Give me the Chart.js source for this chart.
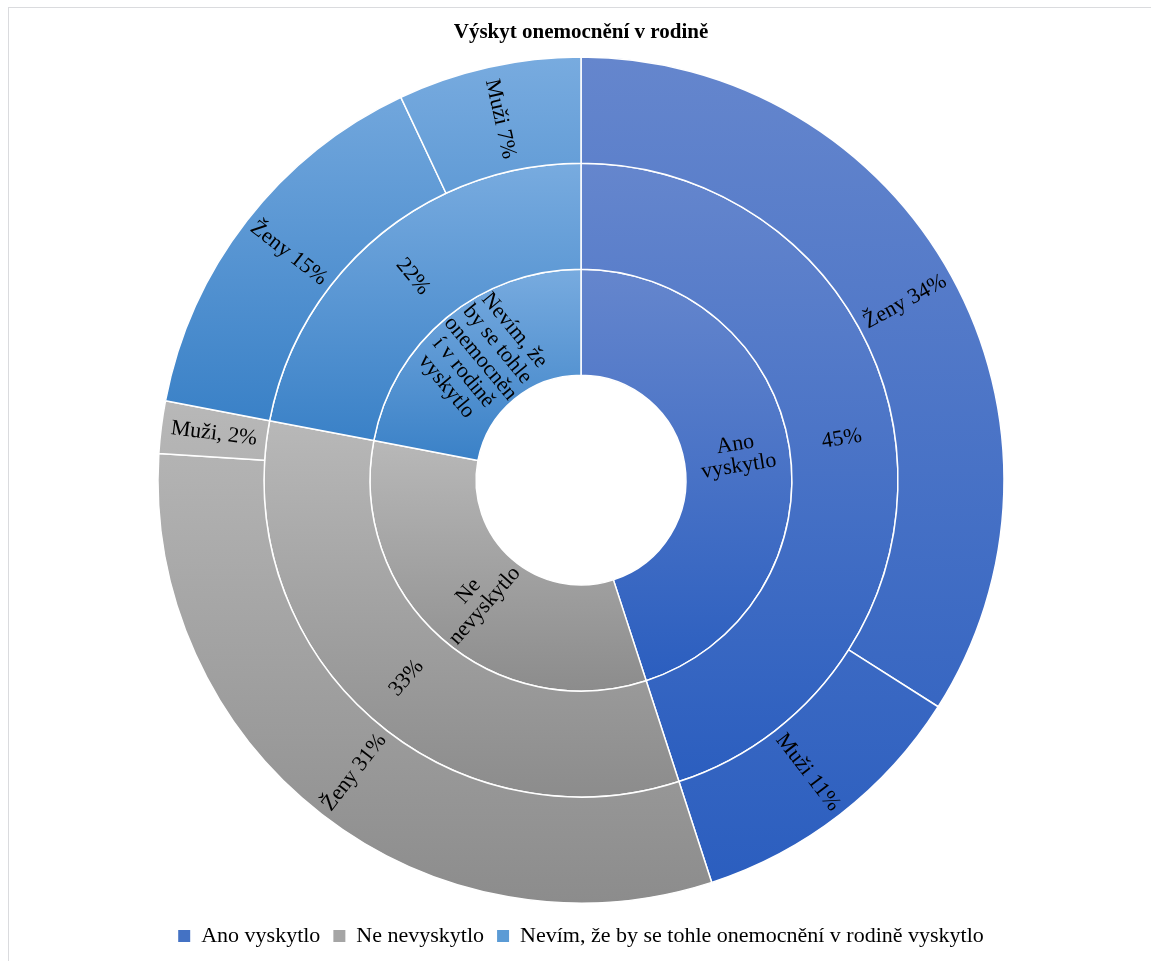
<!DOCTYPE html>
<html lang="cs">
<head>
<meta charset="utf-8">
<title>Výskyt onemocnění v rodině</title>
<script src="https://cdn.jsdelivr.net/npm/chart.js@4.4.1/dist/chart.umd.min.js"></script>
<style>
  html, body { margin: 0; padding: 0; background: #fff; overflow: hidden; }
  #frame { position: absolute; left: 8px; top: 7px; width: 1200px; height: 1000px; border: 1px solid #dadbde; box-sizing: border-box; }
  #wrap { position: absolute; left: 0; top: 0; width: 1151px; height: 961px; }
</style>
</head>
<body>
<div id="frame"></div>
<div id="wrap"><canvas id="chart"></canvas></div>
<script>
/* ── Data ── */
const groupNames = ["Ano vyskytlo", "Ne nevyskytlo", "Nevím, že by se tohle onemocnění v rodině vyskytlo"];
const groupShares = [45, 33, 22];
const groupRingText = [["Ano", "vyskytlo"], ["Ne", "nevyskytlo"], ["Nevím, že", "by se tohle", "onemocněn", "í v rodině", "vyskytlo"]];
const genderNames = ["Ženy", "Muži", "Ženy", "Muži,", "Ženy", "Muži"];
const genderShares = [34, 11, 31, 2, 15, 7];
const genderParent = [0, 0, 1, 1, 2, 2];

/* ── Palette: solid legend colour + top/bottom gradient stops per group ── */
const groupColors = ["#4472c4", "#a5a5a5", "#5b9bd5"];
const groupGradient = [["#6586cd", "#2b5ebf"], ["#b8b8b8", "#8c8c8c"], ["#78abdf", "#3a81c7"]];

const FONT = "'Liberation Serif', 'Times New Roman', serif";
Chart.defaults.font.family = FONT;
Chart.defaults.color = "#000";

/* ── Vertical gradient spanning each group's arcs within a ring ── */
function arcExtent(p) {
  let top = Infinity, bot = -Infinity;
  for (let k = 0; k <= 90; k++) {
    const a = p.startAngle + (p.endAngle - p.startAngle) * k / 90;
    [p.innerRadius, p.outerRadius].forEach(r => {
      const py = p.y + Math.sin(a) * r;
      top = Math.min(top, py);
      bot = Math.max(bot, py);
    });
  }
  return [top, bot];
}

const arcGradient = {
  id: "arcGradient",
  beforeDatasetsDraw(chart) {
    const ctx = chart.ctx;
    chart.data.datasets.forEach((ds, di) => {
      const arcs = chart.getDatasetMeta(di).data;
      const span = {};
      arcs.forEach((arc, i) => {
        const p = arc.getProps(["x", "y", "startAngle", "endAngle", "innerRadius", "outerRadius"], true);
        const [t, b] = arcExtent(p);
        const g = ds.parent[i];
        span[g] = span[g] ? [Math.min(span[g][0], t), Math.max(span[g][1], b)] : [t, b];
      });
      arcs.forEach((arc, i) => {
        const g = ds.parent[i];
        const grad = ctx.createLinearGradient(0, span[g][0], 0, span[g][1]);
        grad.addColorStop(0, groupGradient[g][0]);
        grad.addColorStop(1, groupGradient[g][1]);
        arc.options = Object.assign({}, arc.options, { backgroundColor: grad });
      });
    });
  }
};

/* ── Ring labels, written along the radius ── */
const ringLabels = {
  id: "ringLabels",
  afterDatasetsDraw(chart) {
    const ctx = chart.ctx;
    const lineGap = 22;
    ctx.save();
    ctx.fillStyle = "#000";
    ctx.font = "22px " + FONT;
    ctx.textAlign = "center";
    ctx.textBaseline = "middle";
    chart.data.datasets.forEach((ds, di) => {
      chart.getDatasetMeta(di).data.forEach((arc, i) => {
        const p = arc.getProps(["x", "y", "startAngle", "endAngle", "innerRadius", "outerRadius"], true);
        const mid = (p.startAngle + p.endAngle) / 2;
        const r = (p.innerRadius + p.outerRadius) / 2;
        let rot = mid;
        if (Math.cos(mid) < 0) rot += Math.PI; // keep text upright on the left half
        const lines = ds.ringText[i];
        ctx.save();
        ctx.translate(p.x + Math.cos(mid) * r, p.y + Math.sin(mid) * r);
        ctx.rotate(rot);
        lines.forEach((t, k) => ctx.fillText(t, 0, (k - (lines.length - 1) / 2) * lineGap));
        ctx.restore();
      });
    });
    ctx.restore();
  }
};

new Chart(document.getElementById("chart"), {
  type: "doughnut",
  data: {
    labels: groupNames,
    datasets: [
      {
        data: genderShares,
        parent: genderParent,
        ringText: genderShares.map((v, i) => [genderNames[i] + " " + v + "%"]),
        backgroundColor: genderParent.map(g => groupColors[g])
      },
      {
        data: groupShares,
        parent: [0, 1, 2],
        ringText: groupShares.map(v => [v + "%"]),
        backgroundColor: groupColors
      },
      {
        data: groupShares,
        parent: [0, 1, 2],
        ringText: groupRingText,
        backgroundColor: groupColors
      }
    ]
  },
  options: {
    responsive: true,
    maintainAspectRatio: false,
    animation: false,
    radius: 423,
    cutout: "24.8%",
    borderColor: "#ffffff",
    borderWidth: 1.5,
    layout: { padding: { left: 11, right: 0, top: 0, bottom: 4 } },
    plugins: {
      tooltip: { enabled: false },
      title: {
        display: true,
        text: "Výskyt onemocnění v rodině",
        color: "#000",
        font: { family: FONT, size: 21, weight: "bold" },
        padding: { top: 20, bottom: 3 }
      },
      legend: {
        position: "bottom",
        onClick: () => {},
        labels: {
          color: "#000",
          font: { family: FONT, size: 22 },
          boxWidth: 12,
          boxHeight: 12,
          padding: 13,
          generateLabels: () => groupNames.map((name, i) => ({
            text: name,
            fillStyle: groupColors[i],
            strokeStyle: groupColors[i],
            lineWidth: 0,
            hidden: false,
            index: i
          }))
        }
      }
    }
  },
  plugins: [arcGradient, ringLabels]
});
</script>
</body>
</html>
